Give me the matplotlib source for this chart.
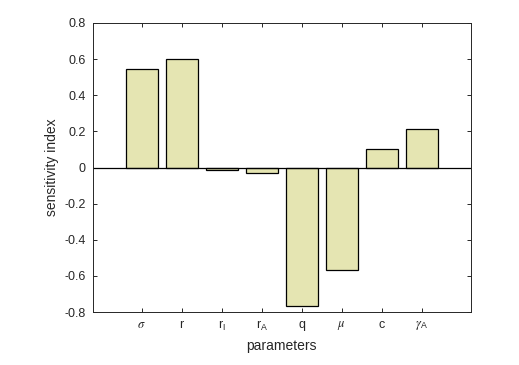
import matplotlib.pyplot as plt

plt.rcParams['font.family'] = ['Liberation Sans', 'DejaVu Sans']
plt.rcParams['mathtext.fontset'] = 'stix'

params = [r'$\sigma$', 'r', r'$\mathregular{r_I}$', r'$\mathregular{r_A}$', 'q', r'$\mu$', 'c', r'$\gamma_\mathregular{A}$']
sensitivity = [0.544, 0.601, -0.012, -0.029, -0.769, -0.569, 0.101, 0.213]

fig = plt.figure(figsize=(5.19, 3.65), dpi=100)
ax = fig.add_axes([0.179, 0.145, 0.728, 0.792])

xs = list(range(1, len(params) + 1))
ax.bar(xs, sensitivity, width=0.8, color='#e5e5b2', edgecolor='black', linewidth=0.9)
ax.axhline(0, color='black', linewidth=0.9)

ax.set_xlim(-0.22, 9.23)
ax.set_ylim(-0.8, 0.8)
ax.set_xticks(xs)
ax.set_xticklabels(params)
ax.set_yticks([-0.8, -0.6, -0.4, -0.2, 0, 0.2, 0.4, 0.6, 0.8])
ax.set_yticklabels(['-0.8', '-0.6', '-0.4', '-0.2', '0', '0.2', '0.4', '0.6', '0.8'])
ax.tick_params(direction='in', top=True, right=True, length=3, width=0.7,
               labelsize=9, colors='#262626', pad=5)
for s in ax.spines.values():
    s.set_color('#262626')
    s.set_linewidth(0.7)

ax.set_xlabel('parameters', fontsize=10, color='#262626', labelpad=4)
ax.set_ylabel('sensitivity index', fontsize=10, color='#262626', labelpad=4)

fig.savefig('out.png', dpi=100)
